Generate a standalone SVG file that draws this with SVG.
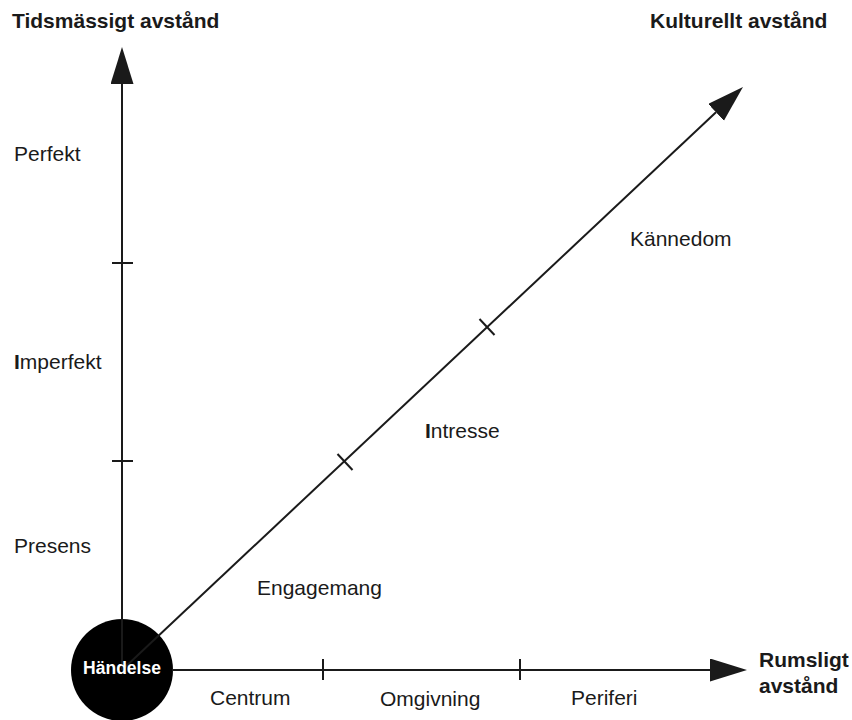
<svg xmlns="http://www.w3.org/2000/svg" width="852" height="720" viewBox="0 0 852 720">
<style>
.ax{stroke:#1a1a1a;stroke-width:2;fill:none}
.tk{stroke:#1a1a1a;stroke-width:2}
.lbl{font-family:"Liberation Sans",Arial,sans-serif;font-size:21px;fill:#1a1a1a}
.ttl{font-family:"Liberation Sans",Arial,sans-serif;font-size:21px;font-weight:bold;fill:#1a1a1a}
.b{font-weight:bold}
</style>
<defs>
<marker id="arr" markerUnits="userSpaceOnUse" markerWidth="38" markerHeight="24" refX="0" refY="11.5" orient="auto">
<path d="M0,0 L37,11.5 L0,23 z" fill="#1a1a1a"/>
</marker>
</defs>
<rect width="852" height="720" fill="#fff"/>
<g id="handelse">
<circle cx="122" cy="670" r="51" fill="#000"/>
</g>
<g id="connectors">
<line class="ax" x1="122" y1="670" x2="122" y2="84" marker-end="url(#arr)"/>
<line class="ax" x1="172" y1="670" x2="710" y2="670" marker-end="url(#arr)"/>
<line class="ax" x1="122" y1="670" x2="716" y2="112.3" marker-end="url(#arr)"/>
<line class="tk" x1="112" y1="263" x2="133" y2="263"/>
<line class="tk" x1="112" y1="461" x2="133" y2="461"/>
<line class="tk" x1="323" y1="659" x2="323" y2="680"/>
<line class="tk" x1="520" y1="659" x2="520" y2="680"/>
<line class="tk" x1="337.5" y1="454" x2="352.5" y2="470"/>
<line class="tk" x1="479.5" y1="319" x2="494.5" y2="335"/>
</g>
<g id="handelse-label">
<text x="122" y="674" text-anchor="middle" font-family="'Liberation Sans',Arial,sans-serif" font-size="17.5" font-weight="bold" fill="#fff">Händelse</text>
</g>
<g id="tid-title"><text class="ttl" x="12" y="28">Tidsmässigt avstånd</text></g>
<g id="kultur-title"><text class="ttl" x="650" y="28">Kulturellt avstånd</text></g>
<g id="rum-title"><text class="ttl" x="759" y="667">Rumsligt</text><text class="ttl" x="759" y="693">avstånd</text></g>
<g id="perfekt"><text class="lbl" x="14" y="161">Perfekt</text></g>
<g id="imperfekt"><text class="lbl" x="14" y="369"><tspan class="b">I</tspan>mperfekt</text></g>
<g id="presens"><text class="lbl" x="14" y="553">Presens</text></g>
<g id="engagemang"><text class="lbl" x="257" y="595">Engagemang</text></g>
<g id="intresse"><text class="lbl" x="425" y="438"><tspan class="b">I</tspan>ntresse</text></g>
<g id="kannedom"><text class="lbl" x="630" y="246">Kännedom</text></g>
<g id="centrum"><text class="lbl" x="210" y="705">Centrum</text></g>
<g id="omgivning"><text class="lbl" x="380" y="706">Omgivning</text></g>
<g id="periferi"><text class="lbl" x="571" y="705">Periferi</text></g>
</svg>
